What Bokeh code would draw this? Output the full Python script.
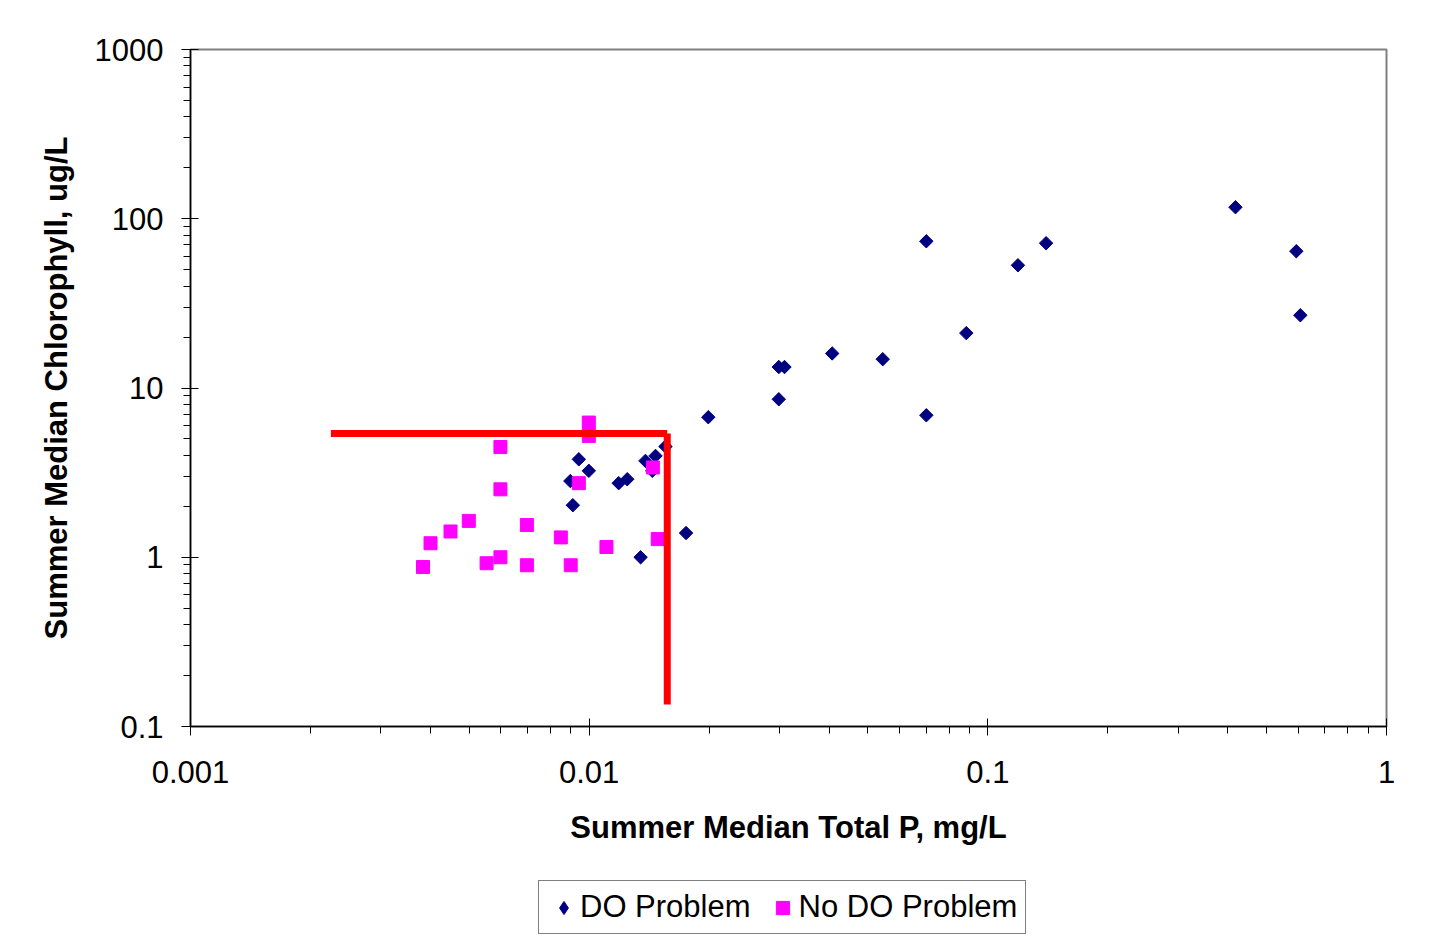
import math
from bokeh.plotting import figure
from bokeh.layouts import column
from bokeh.models import Legend, LegendItem, CustomJSTickFormatter
from bokeh.embed import file_html
from bokeh.resources import INLINE

# ---- data ----
do_tp = [0.00897, 0.00910, 0.00942, 0.00998, 0.01186, 0.01246, 0.01346, 0.01384,
         0.01440, 0.01467, 0.01554, 0.0175, 0.0199, 0.0299, 0.0299, 0.0309,
         0.0407, 0.0545, 0.0701, 0.0701, 0.0883, 0.119, 0.140, 0.418, 0.594, 0.608]
do_chl = [2.82, 2.03, 3.79, 3.24, 2.74, 2.89, 1.00, 3.71,
          3.24, 3.97, 4.51, 1.39, 6.72, 13.3, 8.58, 13.3,
          16.0, 14.8, 73.6, 6.90, 21.1, 53.1, 71.7, 117, 64.3, 26.9]

nodo_tp = [0.00383, 0.00400, 0.00449, 0.00499, 0.00553, 0.00599, 0.00599, 0.00599,
           0.00698, 0.00698, 0.00849, 0.00899, 0.00942, 0.00998, 0.00998, 0.01105,
           0.01445, 0.01486]
nodo_chl = [0.876, 1.21, 1.42, 1.64, 0.922, 4.48, 2.52, 1.00,
            1.55, 0.897, 1.31, 0.897, 2.74, 6.25, 5.21, 1.15,
            3.39, 1.28]

# threshold lines (red)
tp_threshold = 0.0157
chl_threshold = 5.39
h_line_tp_start = 0.00225
v_line_chl_end = 0.135

series_labels = ["DO Problem", "No DO Problem"]
x_title = "Summer Median Total P, mg/L"
y_title = "Summer Median Chlorophyll, ug/L"

NAVY = "#000080"
MAGENTA = "#FF00FF"
RED = "#FF0000"
FONT = "Liberation Sans"
FS = "31px"
NAN = float("nan")

p = figure(x_axis_type="log", y_axis_type="log",
           x_range=(0.001, 1), y_range=(0.1, 1000),
           frame_width=1196, frame_height=677,
           min_border_left=190, min_border_right=58,
           min_border_top=49, min_border_bottom=130,
           output_backend="svg", toolbar_location=None,
           background_fill_color="white", border_fill_color="white")

p.grid.visible = False
p.outline_line_color = "#808080"
p.outline_line_width = 2

fmt = CustomJSTickFormatter(code="return String(parseFloat(tick.toPrecision(6)));")
for ax in (p.xaxis[0], p.yaxis[0]):
    ax.formatter = fmt
    ax.axis_line_color = "black"
    ax.axis_line_width = 1.5
    ax.major_tick_line_color = "black"
    ax.minor_tick_line_color = "black"
    ax.major_tick_in = 8
    ax.major_tick_out = 9
    ax.minor_tick_in = 0
    ax.minor_tick_out = 7
    ax.major_label_text_font = FONT
    ax.major_label_text_font_size = FS
    ax.major_label_text_color = "black"
    ax.axis_label_text_font = FONT
    ax.axis_label_text_font_size = FS
    ax.axis_label_text_font_style = "bold"
    ax.axis_label_text_color = "black"

p.xaxis.axis_label = x_title
p.yaxis.axis_label = y_title
p.xaxis.major_label_standoff = 25
p.yaxis.major_label_standoff = 18
p.xaxis.axis_label_standoff = 24
p.yaxis.axis_label_standoff = 18

do_r = p.scatter(do_tp, do_chl, marker="square", angle=math.pi / 4, size=9.5,
                 fill_color=NAVY, line_color=NAVY)
nodo_r = p.scatter(nodo_tp, nodo_chl, marker="square", size=13,
                   fill_color=MAGENTA, line_color=MAGENTA)

p.line([h_line_tp_start, tp_threshold], [chl_threshold, chl_threshold],
       line_color=RED, line_width=7)
p.line([tp_threshold, tp_threshold], [chl_threshold, v_line_chl_end],
       line_color=RED, line_width=7)

# ---- legend strip below the chart ----
lp = figure(width=1444, height=81, x_range=(0, 1), y_range=(0, 1),
            min_border=0, output_backend="svg", toolbar_location=None,
            background_fill_color="white", border_fill_color="white")
lp.axis.visible = False
lp.grid.visible = False
lp.outline_line_color = None

# legend swatches (NaN position: drawn only as legend glyphs)
leg_do = lp.scatter([NAN], [NAN], marker="diamond", fill_color=NAVY, line_color=NAVY)
leg_nodo = lp.scatter([NAN], [NAN], marker="square", fill_color=MAGENTA, line_color=MAGENTA)

legend = Legend(items=[LegendItem(label=series_labels[0], renderers=[leg_do]),
                       LegendItem(label=series_labels[1], renderers=[leg_nodo])],
                orientation="horizontal", location=(348, 3),
                label_text_font=FONT, label_text_font_size=FS, label_text_color="black",
                glyph_width=33, glyph_height=33, label_standoff=0, spacing=15,
                padding=8, margin=0,
                border_line_color="black", border_line_width=1,
                background_fill_color="white", background_fill_alpha=1)
lp.add_layout(legend, "center")

open("out.html", "w").write(file_html(column(p, lp), INLINE))
